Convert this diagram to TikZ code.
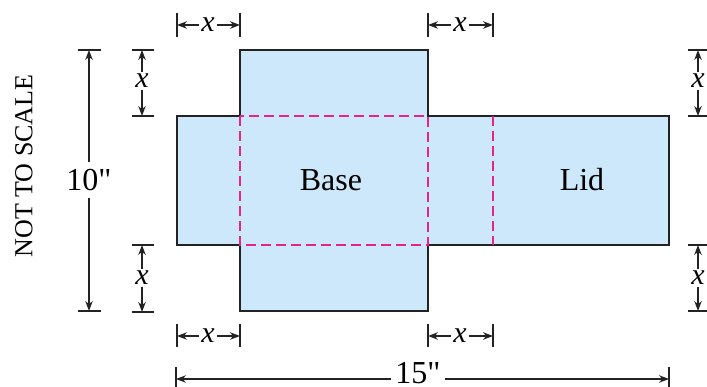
\documentclass[tikz,border=0pt]{standalone}
\usepackage{fontspec}
\setmainfont{Liberation Serif}
\usetikzlibrary{arrows.meta}
\definecolor{netblue}{RGB}{204,232,250}
\definecolor{foldpink}{RGB}{228,36,136}
\definecolor{dimgray}{RGB}{35,35,35}
\newcommand\inch{\textquotedbl}
\begin{document}
\begin{tikzpicture}[x=1pt,y=-1pt,
  outline/.style={draw=dimgray,line width=1.9pt,fill=netblue},
  fold/.style={draw=foldpink,line width=1.7pt,dash pattern=on 10pt off 5pt},
  dimarrow/.style={draw=dimgray,line width=1.4pt,-{Stealth[length=10pt,width=7.5pt]}},
  dimtick/.style={draw=dimgray,line width=1.5pt},
  lab/.style={font=\fontsize{32}{36}\selectfont,text=black,inner sep=0pt},
  xlab/.style={font=\fontsize{30}{34}\selectfont\itshape,text=black,inner xsep=2pt,inner ysep=2pt,anchor=base}]
\useasboundingbox (0,0) rectangle (707,387);
% net
\draw[outline] (240,50) -- (428,50) -- (428,116) -- (669,116) -- (669,245) -- (428,245)
  -- (428,311) -- (240,311) -- (240,245) -- (177,245) -- (177,116) -- (240,116) -- cycle;
\draw[fold] (240,116) rectangle (428,245);
\draw[fold] (493,116) -- (493,245);
\node[lab] (base) at (331,180) {Base};
\node[lab] (lid) at (582,180) {Lid};
% top x dims
\draw[dimtick] (177,13) -- (177,37) (240,13) -- (240,37);
\coordinate (tlA) at (177,25); \coordinate (tlB) at (240,25);
\node[xlab] (xtl) at (208,32) {x};
\draw[dimarrow] (xtl.west |- tlA) -- (tlA);
\draw[dimarrow] (xtl.east |- tlB) -- (tlB);
\draw[dimtick] (428,13) -- (428,37) (493,13) -- (493,37);
\coordinate (tmA) at (428,25); \coordinate (tmB) at (493,25);
\node[xlab] (xtm) at (460,32) {x};
\draw[dimarrow] (xtm.west |- tmA) -- (tmA);
\draw[dimarrow] (xtm.east |- tmB) -- (tmB);
% bottom x dims
\draw[dimtick] (177,324) -- (177,347) (240,324) -- (240,347);
\coordinate (blA) at (177,336); \coordinate (blB) at (240,336);
\node[xlab] (xbl) at (208,343) {x};
\draw[dimarrow] (xbl.west |- blA) -- (blA);
\draw[dimarrow] (xbl.east |- blB) -- (blB);
\draw[dimtick] (428,324) -- (428,347) (493,324) -- (493,347);
\coordinate (bmA) at (428,336); \coordinate (bmB) at (493,336);
\node[xlab] (xbm) at (460,343) {x};
\draw[dimarrow] (xbm.west |- bmA) -- (bmA);
\draw[dimarrow] (xbm.east |- bmB) -- (bmB);
% 15"
\draw[dimtick] (176,367) -- (176,390) (669,367) -- (669,390);
\coordinate (wA) at (176,379); \coordinate (wB) at (669,379);
\node[lab,inner xsep=4pt,anchor=base] (w) at (418,384) {15\inch};
\draw[dimarrow] (w.west |- wA) -- (wA);
\draw[dimarrow] (w.east |- wB) -- (wB);
% 10"
\draw[dimtick] (78,50) -- (101,50) (78,311) -- (101,311);
\coordinate (hA) at (89,50); \coordinate (hB) at (89,311);
\node[lab,inner ysep=7pt] (h) at (89,180) {10\inch};
\draw[dimarrow] (h.north -| hA) -- (hA);
\draw[dimarrow] (h.south -| hB) -- (hB);
% left x dims
\draw[dimtick] (132,50) -- (154,50) (132,116) -- (154,116);
\coordinate (ltA) at (142,50); \coordinate (ltB) at (142,116);
\node[xlab] (xlt) at (142,88) {x};
\draw[dimarrow] (xlt.north -| ltA) -- (ltA);
\draw[dimarrow] (xlt.south -| ltB) -- (ltB);
\draw[dimtick] (132,245) -- (154,245) (132,312) -- (154,312);
\coordinate (lbA) at (142,245); \coordinate (lbB) at (142,312);
\node[xlab] (xlb) at (142,285) {x};
\draw[dimarrow] (xlb.north -| lbA) -- (lbA);
\draw[dimarrow] (xlb.south -| lbB) -- (lbB);
% right x dims
\draw[dimtick] (688,50) -- (712,50) (688,116) -- (712,116);
\coordinate (rtA) at (698,50); \coordinate (rtB) at (698,116);
\node[xlab] (xrt) at (698,88) {x};
\draw[dimarrow] (xrt.north -| rtA) -- (rtA);
\draw[dimarrow] (xrt.south -| rtB) -- (rtB);
\draw[dimtick] (688,245) -- (712,245) (688,311) -- (712,311);
\coordinate (rbA) at (698,245); \coordinate (rbB) at (698,311);
\node[xlab] (xrb) at (698,285) {x};
\draw[dimarrow] (xrb.north -| rbA) -- (rbA);
\draw[dimarrow] (xrb.south -| rbB) -- (rbB);
% side note
\node[lab,rotate=90,font=\fontsize{26}{30}\selectfont] (note) at (24,166) {NOT TO SCALE};
\end{tikzpicture}
\end{document}
